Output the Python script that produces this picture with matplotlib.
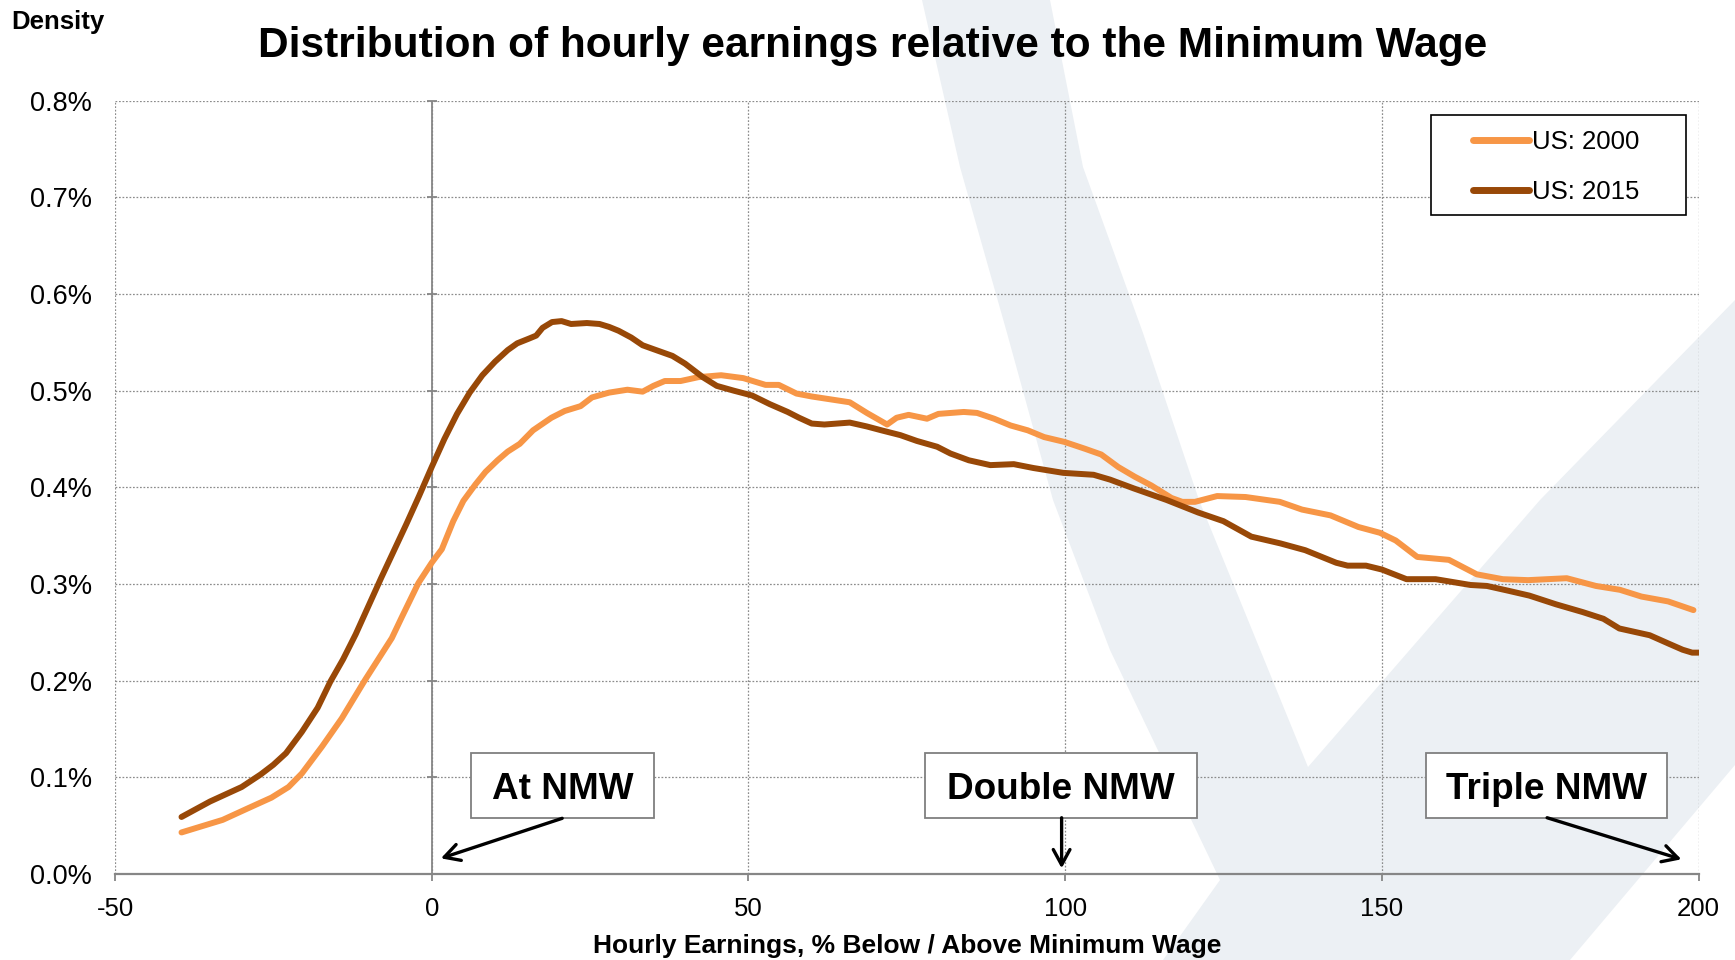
import matplotlib
matplotlib.use("Agg")
import matplotlib.pyplot as plt
from matplotlib.patches import Polygon, Rectangle
from matplotlib.ticker import FuncFormatter

plt.rcParams['font.family'] = ['Liberation Sans', 'DejaVu Sans']
plt.rcParams['axes.unicode_minus'] = False

# ---------------- data (density in %) ----------------
x_2015 = [-39.5, -35, -30, -27, -25, -23, -20.5, -18, -16, -14, -12, -10, -8, -6, -4, -2,
          0, 2, 4, 6, 8, 10, 12, 13.5, 15.4, 16.5, 17.5, 19, 20.5, 22, 24.5, 26.5, 28, 29.5,
          31.5, 33.3, 35, 38, 40, 42.8, 45, 47.7, 50.6, 53.4, 56.2, 58, 60, 62, 66, 68.7, 71,
          74, 76.6, 79.8, 81.9, 84.8, 88.2, 91.9, 95, 99.7, 104.5, 107.1, 110.8, 116, 121,
          125, 129.4, 134, 137.9, 142.8, 144.6, 147.5, 150, 153.9, 158.5, 164, 166.6, 170,
          173.3, 177.5, 181.7, 185, 187.5, 192.3, 195.4, 197.5, 199, 200]
y_2015 = [0.059, 0.075, 0.090, 0.103, 0.113, 0.125, 0.147, 0.172, 0.199, 0.222, 0.248, 0.277,
          0.306, 0.334, 0.362, 0.391, 0.421, 0.450, 0.476, 0.498, 0.516, 0.530, 0.542, 0.549,
          0.554, 0.557, 0.565, 0.571, 0.572, 0.569, 0.570, 0.569, 0.566, 0.562, 0.555, 0.547,
          0.543, 0.536, 0.528, 0.514, 0.505, 0.500, 0.495, 0.486, 0.478, 0.472, 0.466, 0.465,
          0.467, 0.463, 0.459, 0.454, 0.448, 0.442, 0.435, 0.428, 0.423, 0.424, 0.420, 0.415,
          0.413, 0.408, 0.399, 0.387, 0.374, 0.365, 0.349, 0.342, 0.335, 0.322, 0.319, 0.319,
          0.315, 0.305, 0.305, 0.299, 0.298, 0.293, 0.288, 0.279, 0.271, 0.264, 0.254, 0.247,
          0.238, 0.232, 0.229, 0.229]

x_2000 = [-39.5, -36, -33, -29, -25.3, -22.6, -20.5, -17.3, -14.2, -10.5, -6.3, -4.7, -2.1,
          0, 1.6, 3.4, 5, 6.9, 8.5, 10.4, 12, 13.9, 16, 18.9, 21, 23.5, 25.3, 28, 30.9, 33.3,
          35, 36.8, 39.3, 42.1, 45.7, 49.2, 52.7, 54.8, 57.6, 60, 63, 66, 68.7, 71.9, 73.4,
          75.3, 78.2, 80, 84, 86.1, 88.8, 91.4, 94.1, 96.7, 99.9, 103.1, 105.7, 108.4, 111,
          113.6, 116.8, 118.5, 120.5, 124, 128.5, 133.9, 137.4, 141.9, 146.3, 149.7, 152.2,
          155.6, 160.6, 165, 169.1, 173.1, 179.2, 183.8, 187.6, 191, 195.2, 199.2]
y_2000 = [0.043, 0.050, 0.056, 0.068, 0.079, 0.090, 0.104, 0.132, 0.161, 0.201, 0.244, 0.266,
          0.301, 0.322, 0.336, 0.365, 0.386, 0.403, 0.416, 0.428, 0.437, 0.445, 0.459, 0.472,
          0.479, 0.484, 0.493, 0.498, 0.501, 0.499, 0.505, 0.510, 0.510, 0.514, 0.516, 0.513,
          0.506, 0.506, 0.497, 0.494, 0.491, 0.488, 0.477, 0.465, 0.472, 0.475, 0.471, 0.476,
          0.478, 0.477, 0.471, 0.464, 0.459, 0.452, 0.447, 0.440, 0.434, 0.421, 0.411, 0.402,
          0.389, 0.385, 0.385, 0.391, 0.390, 0.385, 0.377, 0.371, 0.359, 0.353, 0.345, 0.328,
          0.325, 0.310, 0.305, 0.304, 0.306, 0.298, 0.294, 0.287, 0.282, 0.273]

series_labels = ["US: 2000", "US: 2015"]
x_ticks = [-50, 0, 50, 100, 150, 200]
y_ticks = [0.0, 0.1, 0.2, 0.3, 0.4, 0.5, 0.6, 0.7, 0.8]
annotation_texts = ["At NMW", "Double NMW", "Triple NMW"]
annotation_targets = [0, 100, 200]

# ---------------- figure ----------------
W, H = 1735, 960
fig = plt.figure(figsize=(W / 100, H / 100), dpi=100)
fig.patch.set_facecolor('white')

# faint "V" watermark in the background (figure pixel coords, y from top)
wm_px = [(922, 0), (1050, 0), (1083, 167), (1143, 333), (1199, 500), (1308, 767),
         (1540, 500), (1735, 300), (1735, 765), (1570, 960), (1163, 960), (1220, 880),
         (1110, 650), (1053, 500), (1007, 333), (960, 167)]
wm = Polygon([(px / W, 1 - py / H) for px, py in wm_px], closed=True,
             transform=fig.transFigure, facecolor='#ECF0F4', edgecolor='none', zorder=-1)
fig.add_artist(wm)

ax_left, ax_right, ax_top, ax_bot = 115, 1698.5, 100.7, 874
ax = fig.add_axes([ax_left / W, 1 - ax_bot / H, (ax_right - ax_left) / W, (ax_bot - ax_top) / H])
ax.set_facecolor('none')

c2000 = '#F79646'
c2015 = '#984807'
l1, = ax.plot(x_2000, y_2000, color=c2000, lw=4.3, solid_capstyle='round',
              solid_joinstyle='round', zorder=4, label=series_labels[0])
l2, = ax.plot(x_2015, y_2015, color=c2015, lw=4.3, solid_capstyle='round',
              solid_joinstyle='round', zorder=4, label=series_labels[1])

ax.set_xlim(-50, 200)
ax.set_ylim(0, 0.8)
ax.set_xticks(x_ticks)
ax.set_yticks(y_ticks)
ax.yaxis.set_major_formatter(FuncFormatter(lambda v, p: f"{v:.1f}%"))

grid_col = '#8C8C8C'
ax.grid(True, color=grid_col, linestyle=(0, (1.4, 1.4)), lw=0.9, zorder=0)
ax.set_axisbelow(True)
for s in ['left', 'top', 'right']:
    ax.spines[s].set_visible(False)
ax.spines['bottom'].set_color('#868686')
ax.spines['bottom'].set_linewidth(1.6)
ax.spines['bottom'].set_zorder(3)

# vertical axis line crossing at 0 with small cross ticks
ax.axvline(0, color='#868686', lw=1.3, zorder=2)
ax.plot([0] * len(y_ticks), y_ticks, linestyle='none', marker='_', ms=7,
        mew=1.3, color='#868686', zorder=2, clip_on=False)

ax.tick_params(axis='x', direction='out', length=5.3, width=1.3, color='#868686',
               labelsize=18.5, pad=11, labelcolor='black')
ax.tick_params(axis='y', length=0, labelsize=19.5, pad=16.6, labelcolor='black')

ax.set_xlabel("Hourly Earnings, % Below / Above Minimum Wage", fontsize=19,
              fontweight='bold')
ax.xaxis.set_label_coords(0.5, -0.078)

# title & axis caption
fig.text(0.503, 1 - 45.5 / H, "Distribution of hourly earnings relative to the Minimum Wage",
         ha='center', va='center', fontsize=30.5, fontweight='bold')
fig.text(11 / W, 1 - 22 / H, "Density", ha='left', va='center', fontsize=18.5,
         fontweight='bold')

# legend with custom frame
frame = Rectangle((0.8311, 0.8522), 0.9921 - 0.8311, 0.9815 - 0.8522, transform=ax.transAxes,
                  facecolor='white', edgecolor='black', lw=1.2, zorder=6)
ax.add_patch(frame)
leg = ax.legend(handles=[l1, l2], loc='upper left', bbox_to_anchor=(0.8574, 0.9615),
                frameon=False, fontsize=18.5, borderpad=0, borderaxespad=0,
                handlelength=2.19, handletextpad=0.13, labelspacing=1.0)
leg.set_zorder(7)
for h in leg.legend_handles:
    h.set_linewidth(5)
    h.set_solid_capstyle('round')

# annotation boxes (data coords, y in %)
box_y0, box_y1 = 0.0582, 0.1255
boxes_x = [(6.27, 35.03), (77.9, 120.9), (156.9, 195.0)]
arrow_tails = [(20.6, 0.0576), (99.45, 0.0582), (176.1, 0.0582)]
arrow_heads = [(1.45, 0.0162), (99.45, 0.0059), (197.3, 0.0152)]
for txt, (bx0, bx1), tail, head in zip(annotation_texts, boxes_x, arrow_tails, arrow_heads):
    ax.add_patch(Rectangle((bx0, box_y0), bx1 - bx0, box_y1 - box_y0, facecolor='white',
                           edgecolor='#7F7F7F', lw=1.3, zorder=6))
    ax.text((bx0 + bx1) / 2, (box_y0 + box_y1) / 2 - 0.0045, txt, ha='center', va='center',
            fontsize=26.6, fontweight='bold', zorder=7)
    ax.annotate('', xy=head, xytext=tail,
                arrowprops=dict(arrowstyle='->,head_length=0.55,head_width=0.3',
                                lw=2.4, color='black', shrinkA=0, shrinkB=0,
                                mutation_scale=20), zorder=7)

fig.savefig('out.png', dpi=100)
